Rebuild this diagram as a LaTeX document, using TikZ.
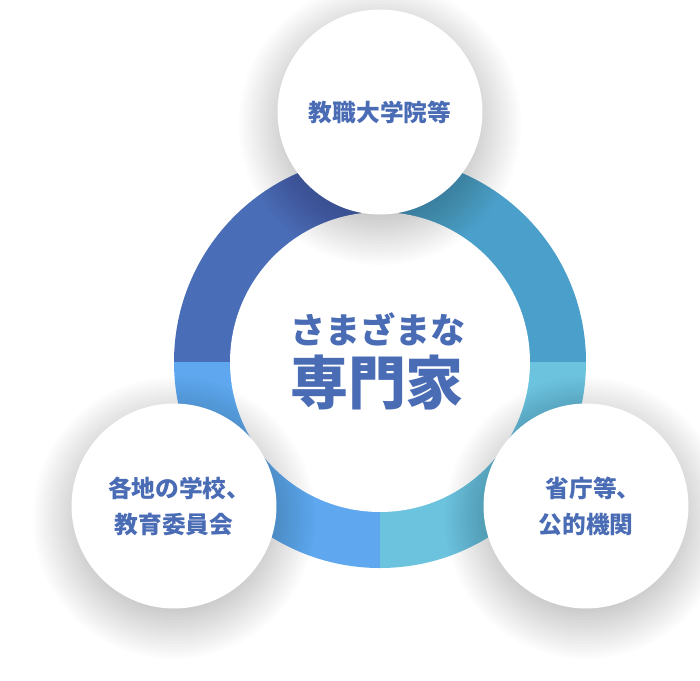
\documentclass[tikz,border=0pt]{standalone}
\usepackage{fontspec}
\usepackage{tikz}
\usetikzlibrary{positioning, backgrounds}
\newfontfamily\jp{Noto Sans CJK JP}
\definecolor{ink}{HTML}{4A6CB5}
\definecolor{segA}{HTML}{4A6DB8}
\definecolor{segB}{HTML}{4BA0CB}
\definecolor{segC}{HTML}{6CC3DE}
\definecolor{segD}{HTML}{5FA7EE}
% soft drop shadow under a round node: #1 node, #2 radius (px)
\newcommand{\softshadow}[2]{%
  \foreach \k in {0,...,21}{%
    \fill[black, opacity=0.010] (#1.center) ++(0,12) circle ({#2+38-3*\k});
  }%
}

\begin{document}
\begin{tikzpicture}[x=0.02cm, y=-0.02cm,
  bubble/.style={circle, fill=white, minimum size=4.1cm, inner sep=0pt, align=center, text=ink,
    font=\jp\bfseries\fontsize{13.5}{20.4}\selectfont},
  core/.style={circle, fill=white, minimum size=6cm, inner sep=0pt},
  kicker/.style={text=ink, inner sep=0pt, font=\jp\bfseries\fontsize{20}{24}\selectfont},
  headline/.style={text=ink, inner sep=0pt, font=\jp\bfseries\fontsize{33}{38}\selectfont}
]
\fill[white] (0,0) rectangle (700,680);
\useasboundingbox (0,0) rectangle (700,680);

% ===== Ring =====
\coordinate (hub) at (380,362);
\fill[segA] (hub) -- ++(180:206) arc[start angle=180, end angle=270, radius=206] -- cycle;
\fill[segB] (hub) -- ++(270:206) arc[start angle=270, end angle=360, radius=206] -- cycle;
\fill[segC] (hub) -- ++(0:206) arc[start angle=0, end angle=90, radius=206] -- cycle;
\fill[segD] (hub) -- ++(90:206) arc[start angle=90, end angle=180, radius=206] -- cycle;
\node[core] (center) at (hub) {};

% ===== Outer bubbles =====
\coordinate (topc) at (380,112);
\coordinate (leftc) at (174,506);
\coordinate (rightc) at (586,506);
\foreach \c in {topc,leftc,rightc}{\softshadow{\c}{103}}
\node[bubble] (univ) at (topc) {教職大学院等};
\node[bubble] (school) at (leftc) {\hspace*{6pt}各地の学校、\\教育委員会};
\node[bubble] (gov) at (rightc) {\hspace*{8pt}省庁等、\\公的機関};

% ===== Title =====
\node[kicker] (various) at (378,329) {さまざまな};
\node[headline] (expert) at (377,383) {専門家};

\end{tikzpicture}
\end{document}
